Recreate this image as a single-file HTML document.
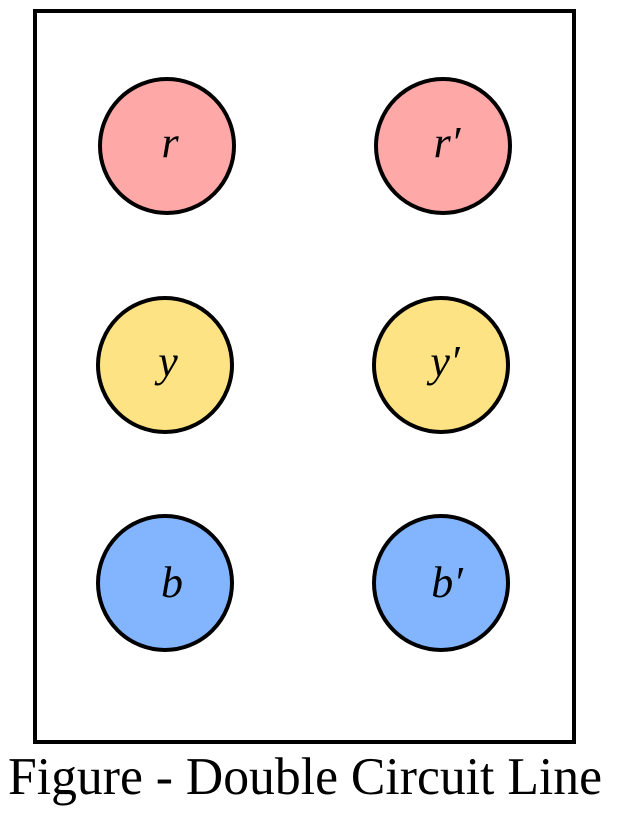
<!DOCTYPE html>
<html><head><style>body{margin:0;background:#fff}</style></head><body>
<svg width="619" height="813" viewBox="0 0 619 813" xmlns="http://www.w3.org/2000/svg">
<rect x="35" y="11" width="539" height="731" fill="#fff" stroke="#000" stroke-width="4"/>
<g stroke="#000" stroke-width="4">
<circle cx="167" cy="146" r="67" fill="#fea8a8"/>
<circle cx="443" cy="146" r="67" fill="#fea8a8"/>
<circle cx="165" cy="365" r="67" fill="#fee384"/>
<circle cx="441" cy="365" r="67" fill="#fee384"/>
<circle cx="165" cy="583" r="67" fill="#83b5fe"/>
<circle cx="441" cy="583" r="67" fill="#83b5fe"/>
</g>
<g font-family="Liberation Serif, serif" font-style="italic" font-size="44" text-anchor="middle" fill="#000">
<text x="170" y="157">r</text>
<text x="447" y="157">r′</text>
<text x="168" y="376">y</text>
<text x="445" y="376">y′</text>
<text x="172" y="597">b</text>
<text x="447" y="597">b′</text>
</g>
<text x="8" y="794" font-family="Liberation Serif, serif" font-size="53" textLength="594" lengthAdjust="spacingAndGlyphs" fill="#000">Figure - Double Circuit Line</text>
</svg>
</body></html>
